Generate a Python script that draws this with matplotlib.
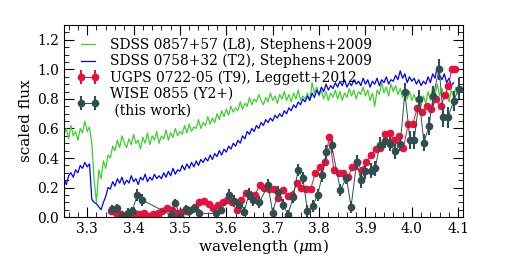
import numpy as np
import matplotlib
matplotlib.use('Agg')
import matplotlib.pyplot as plt
from matplotlib.ticker import MultipleLocator

plt.rcParams['font.family'] = 'DejaVu Serif'
plt.rcParams['mathtext.fontset'] = 'dejavuserif'

# SDSS 0857+57 (L8), sampled every 0.005 um from 3.25 um
l8_start = 3.25
l8_flux = [0.56, 0.60, 0.53, 0.62, 0.55, 0.58, 0.52, 0.60, 0.57, 0.65, 0.58, 0.61, 0.50,
           0.25, 0.10, 0.32, 0.26, 0.38, 0.33, 0.42, 0.40, 0.48, 0.45, 0.52, 0.47, 0.55,
           0.50, 0.47, 0.53, 0.49, 0.56, 0.50, 0.52, 0.46, 0.54, 0.50, 0.57, 0.49, 0.55,
           0.52, 0.58, 0.50, 0.55, 0.53, 0.59, 0.52, 0.57, 0.54, 0.60, 0.55, 0.58, 0.56,
           0.62, 0.57, 0.63, 0.58, 0.61, 0.60, 0.66, 0.60, 0.64, 0.62, 0.68, 0.63, 0.67,
           0.64, 0.70, 0.66, 0.72, 0.68, 0.73, 0.69, 0.75, 0.71, 0.74, 0.72, 0.78, 0.73,
           0.77, 0.75, 0.81, 0.76, 0.80, 0.78, 0.83, 0.79, 0.76, 0.81, 0.78, 0.84, 0.79,
           0.82, 0.77, 0.83, 0.80, 0.85, 0.79, 0.83, 0.78, 0.84, 0.80, 0.86, 0.79, 0.82,
           0.80, 0.84, 0.79, 0.91, 0.84, 0.88, 0.82, 0.86, 0.80, 0.85, 0.79, 0.84, 0.81,
           0.86, 0.80, 0.85, 0.79, 0.84, 0.81, 0.87, 0.82, 0.86, 0.80, 0.85, 0.83, 0.88,
           0.82, 0.86, 0.79, 0.84, 0.75, 0.86, 0.83, 0.91, 0.84, 0.88, 0.82, 0.90, 0.85,
           0.89, 0.83, 0.87, 0.81, 0.86, 0.80, 0.85, 0.79, 0.83, 0.78, 0.80, 0.75, 0.82,
           0.77, 0.85, 0.79, 0.88, 0.83, 0.90, 0.82, 0.87, 0.80, 0.84, 0.78, 0.86, 0.81,
           0.88, 0.83]

# SDSS 0758+32 (T2), sampled every 0.005 um from 3.25 um
t2_start = 3.25
t2_flux = [0.26, 0.22, 0.28, 0.30, 0.27, 0.32, 0.30, 0.35, 0.33, 0.37, 0.34, 0.36, 0.12,
           0.10, 0.09, 0.07, 0.05, 0.10, 0.14, 0.20, 0.19, 0.24, 0.21, 0.26, 0.23, 0.27,
           0.22, 0.25, 0.23, 0.28, 0.24, 0.26, 0.22, 0.27, 0.25, 0.29, 0.24, 0.27, 0.25,
           0.29, 0.26, 0.28, 0.26, 0.30, 0.27, 0.31, 0.28, 0.33, 0.29, 0.32, 0.31, 0.35,
           0.32, 0.36, 0.33, 0.37, 0.34, 0.38, 0.35, 0.39, 0.37, 0.40, 0.38, 0.42, 0.39,
           0.43, 0.41, 0.45, 0.42, 0.46, 0.44, 0.48, 0.46, 0.50, 0.48, 0.52, 0.50, 0.55,
           0.53, 0.58, 0.56, 0.60, 0.58, 0.62, 0.60, 0.64, 0.62, 0.66, 0.64, 0.67, 0.65,
           0.69, 0.67, 0.70, 0.68, 0.72, 0.70, 0.74, 0.72, 0.76, 0.74, 0.78, 0.76, 0.80,
           0.78, 0.82, 0.79, 0.84, 0.81, 0.86, 0.83, 0.88, 0.85, 0.90, 0.86, 0.89, 0.87,
           0.91, 0.88, 0.92, 0.89, 0.93, 0.88, 0.91, 0.89, 0.93, 0.90, 0.92, 0.89, 0.94,
           0.90, 0.93, 0.88, 0.92, 0.90, 0.94, 0.89, 0.93, 0.91, 0.95, 0.90, 0.93, 0.92,
           0.96, 0.93, 0.99, 0.94, 0.97, 0.91, 0.95, 0.92, 0.94, 0.90, 0.93, 0.89, 0.92,
           0.90, 0.95, 0.91, 0.97, 0.94, 1.02, 0.96, 0.93, 0.97, 0.91, 0.94, 0.89, 0.91]

# UGPS 0722-05 (T9)
t9_wave = [3.352, 3.362, 3.372, 3.382, 3.392, 3.402, 3.412, 3.422, 3.432, 3.442, 3.452,
           3.462, 3.472, 3.482, 3.492, 3.502, 3.512, 3.522, 3.532, 3.542, 3.552, 3.562,
           3.572, 3.582, 3.592, 3.602, 3.612, 3.622, 3.632, 3.642, 3.652, 3.662, 3.672,
           3.682, 3.692, 3.702, 3.712, 3.722, 3.732, 3.742, 3.752, 3.762, 3.772, 3.782,
           3.792, 3.802, 3.812, 3.822, 3.832, 3.842, 3.852, 3.862, 3.872, 3.882, 3.892,
           3.902, 3.912, 3.922, 3.932, 3.942, 3.952, 3.962, 3.972, 3.982, 3.992, 4.002,
           4.012, 4.022, 4.032, 4.042, 4.052, 4.062, 4.072, 4.079, 4.086, 4.094]
t9_flux = [0.04, 0.03, 0.02, 0.01, 0.02, 0.03, 0.02, 0.03, 0.01, 0.02, 0.03,
           0.04, 0.06, 0.05, 0.03, 0.035, 0.04, 0.05, 0.07, 0.10, 0.11, 0.09,
           0.06, 0.08, 0.10, 0.115, 0.10, 0.05, 0.115, 0.165, 0.15, 0.15, 0.22,
           0.20, 0.19, 0.19, 0.13, 0.185, 0.14, 0.15, 0.23, 0.20, 0.19, 0.19,
           0.30, 0.34, 0.375, 0.54, 0.32, 0.30, 0.30, 0.27, 0.34, 0.37, 0.32,
           0.375, 0.42, 0.46, 0.47, 0.56, 0.57, 0.52, 0.55, 0.47, 0.63, 0.63,
           0.74, 0.71, 0.75, 0.73, 0.80, 0.75, 0.83, 0.89, 1.00, 1.00]
t9_err = [0.01] * len(t9_flux)

# WISE 0855 (Y2+)
y2_wave = [3.354, 3.365, 3.376, 3.387, 3.397, 3.408, 3.419, 3.480, 3.490, 3.500, 3.512,
           3.520, 3.530, 3.541, 3.578, 3.589, 3.606, 3.617, 3.627, 3.638, 3.649, 3.658,
           3.671, 3.690, 3.700, 3.712, 3.723, 3.733, 3.744, 3.755, 3.765, 3.775, 3.786,
           3.797, 3.807, 3.816, 3.827, 3.846, 3.859, 3.869, 3.881, 3.890, 3.900, 3.911,
           3.921, 3.931, 3.942, 3.953, 3.964, 3.975, 3.985, 3.996, 4.005, 4.016, 4.026,
           4.037, 4.046, 4.059, 4.068, 4.078, 4.090, 4.101]
y2_flux = [0.055, 0.06, 0.005, 0.03, 0.04, 0.15, 0.115, 0.015, 0.095, 0.01, 0.055,
           0.04, 0.06, 0.025, 0.025, 0.05, 0.15, 0.11, 0.08, 0.035, 0.155, 0.115,
           0.10, 0.215, 0.03, 0.17, 0.085, 0.015, 0.135, 0.32, 0.265, 0.04, 0.075,
           0.15, 0.285, 0.44, 0.485, 0.185, 0.265, 0.07, 0.37, 0.25, 0.31, 0.315,
           0.33, 0.49, 0.515, 0.495, 0.445, 0.495, 0.845, 0.52, 0.52, 0.80, 0.505,
           0.615, 0.82, 1.00, 0.68, 0.675, 0.785, 0.87]
y2_err = [0.03, 0.03, 0.03, 0.03, 0.03, 0.04, 0.04, 0.03, 0.03, 0.03, 0.03,
          0.03, 0.03, 0.03, 0.03, 0.03, 0.04, 0.04, 0.03, 0.03, 0.04, 0.04,
          0.04, 0.04, 0.03, 0.04, 0.04, 0.03, 0.04, 0.04, 0.04, 0.04, 0.04,
          0.04, 0.05, 0.05, 0.05, 0.04, 0.04, 0.04, 0.05, 0.05, 0.05, 0.05,
          0.05, 0.05, 0.05, 0.05, 0.05, 0.05, 0.06, 0.06, 0.06, 0.06, 0.06,
          0.06, 0.07, 0.07, 0.07, 0.07, 0.07, 0.07]

l8_wave = l8_start + 0.005 * np.arange(len(l8_flux))
t2_wave = t2_start + 0.005 * np.arange(len(t2_flux))

fig = plt.figure(figsize=(5.12, 2.56), dpi=100)
ax = fig.add_axes([0.125, 0.152, 0.779, 0.750])

ax.plot(l8_wave, l8_flux, color='#3fcf2f', lw=0.9,
        label='SDSS 0857+57 (L8), Stephens+2009')
ax.plot(t2_wave, t2_flux, color='#0000ff', lw=0.9,
        label='SDSS 0758+32 (T2), Stephens+2009')
ax.errorbar(t9_wave, t9_flux, yerr=t9_err, color='#e8103c', ecolor='#e8103c',
            marker='o', ms=4.5, lw=0.7, elinewidth=1.5, capsize=0,
            label='UGPS 0722-05 (T9), Leggett+2012')
ax.errorbar(y2_wave, y2_flux, yerr=y2_err, color='#2f4f4f', ecolor='#2f4f4f',
            marker='o', ms=4.5, lw=0.7, elinewidth=1.5, capsize=0,
            label='WISE 0855 (Y2+)\n (this work)')

ax.set_xlim(3.25, 4.11)
ax.set_ylim(0, 1.3)
ax.xaxis.set_major_locator(MultipleLocator(0.1))
ax.xaxis.set_minor_locator(MultipleLocator(0.02))
ax.yaxis.set_major_locator(MultipleLocator(0.2))
ax.yaxis.set_minor_locator(MultipleLocator(0.05))
ax.tick_params(which='both', direction='in', top=True, right=True, labelsize=10)
ax.tick_params(which='major', length=7)
ax.tick_params(which='minor', length=3.5)

ax.set_xlabel(r'wavelength ($\mu$m)', fontsize=11, labelpad=1)
ax.set_ylabel('scaled flux', fontsize=11, labelpad=3)

ax.legend(loc='upper left', frameon=False, fontsize=10, handlelength=1.6,
          numpoints=2, borderaxespad=0.5, labelspacing=0.15, handletextpad=0.8)

plt.savefig('out.png', dpi=100)
